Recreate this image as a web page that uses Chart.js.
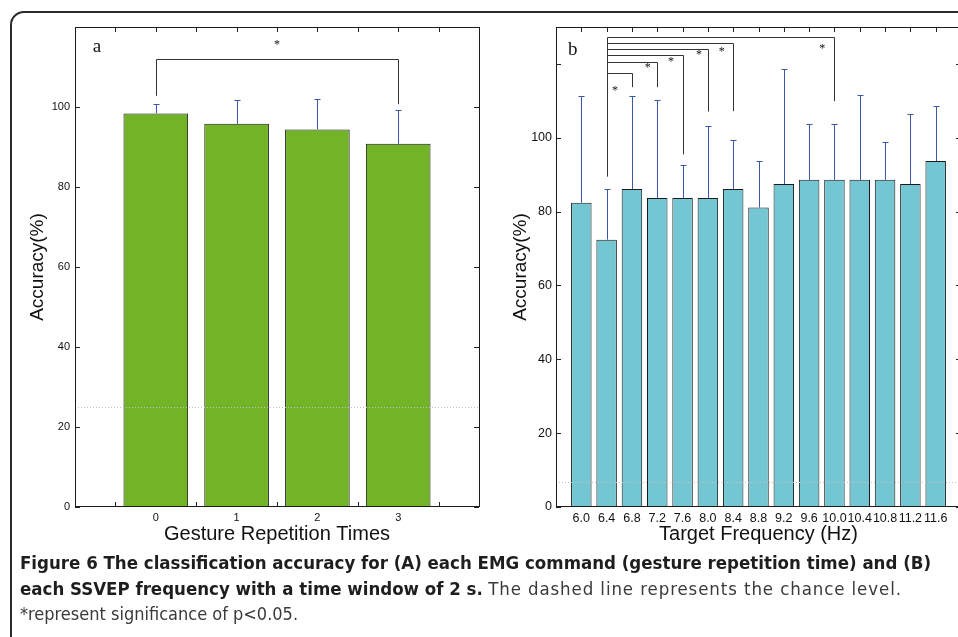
<!DOCTYPE html>
<html>
<head>
<meta charset="utf-8">
<script src="https://cdn.jsdelivr.net/npm/chart.js@4.4.1/dist/chart.umd.min.js"></script>
<style>
  html, body { margin: 0; padding: 0; background: #fff; width: 958px; height: 637px; overflow: hidden; }
  #frame { position: absolute; left: 10px; top: 11px; width: 1000px; height: 700px; border: 2px solid #2a2a2a; border-radius: 14px; box-sizing: border-box; }
  #panelA { position: absolute; left: 0; top: 0; }
  #panelB { position: absolute; left: 490px; top: 0; }
  #caption { position: absolute; left: 20px; top: 550px; font-family: "Liberation Sans Narrow", "DejaVu Sans Condensed", sans-serif; font-size: 18.5px; line-height: 25.5px; color: #3a3a3a; white-space: nowrap; }
  #caption b { color: #1e1e1e; }
  #caption .wide { letter-spacing: 0.9px; }
  #caption .note { font-size: 18px; }
</style>
</head>
<body>
<div id="frame"></div>
<canvas id="panelA" width="490" height="560"></canvas>
<canvas id="panelB" width="480" height="560"></canvas>
<div id="caption">
  <div><b>Figure 6 The classification accuracy for (A) each EMG command (gesture repetition time) and (B)</b></div>
  <div><b>each SSVEP frequency with a time window of 2 s.</b> <span class="wide">The dashed line represents the chance level.</span></div>
  <div class="note">*represent significance of p&lt;0.05.</div>
</div>
<script>
// panel a: accuracy per gesture repetition time
const gestureLabels = ["0", "1", "2", "3"];
const gestureAccuracy = [98.4, 95.8, 94.4, 90.8];
const gestureStd = [2.4, 5.9, 7.6, 8.4];
const gestureChance = 25;
const gestureYLabels = [0, 20, 40, 60, 80, 100];
// [from, to, level, left leg end, right leg end]
const gestureBrackets = [[0, 3, 112, 102.8, 100.7]];
const gestureStars = [[1.5, 116]];

// panel b: accuracy per SSVEP frequency
const freqLabels = ["6.0", "6.4", "6.8", "7.2", "7.6", "8.0", "8.4", "8.8", "9.2", "9.6", "10.0", "10.4", "10.8", "11.2", "11.6"];
const freqAccuracy = [82.4, 72.4, 86.1, 83.7, 83.7, 83.7, 86.1, 81.1, 87.5, 88.6, 88.6, 88.6, 88.6, 87.5, 93.7];
const freqStd = [28.9, 13.7, 25.2, 26.4, 8.8, 19.6, 13.4, 12.5, 31.1, 15.1, 15.1, 23.0, 10.3, 19.0, 14.9];
const freqChance = 6.7;
const freqYLabels = [0, 20, 40, 60, 80, 100];
const freqBrackets = [
    [1, 2, 117.5, 89.6, 113.7],
    [1, 3, 120.6, 89.6, 113.7],
    [1, 4, 122.5, 89.6, 95.5],
    [1, 5, 124.1, 89.6, 107.1],
    [1, 6, 125.6, 89.6, 107.2],
    [1, 10, 127.4, 89.6, 109.9]
];
const freqStars = [[1.33, 113.3], [2.62, 119.6], [3.54, 121.1], [4.65, 122.9], [5.55, 123.8], [9.52, 124.5]];

const sans = '"Liberation Sans", Arial, Helvetica, sans-serif';
const serif = '"Liberation Serif", "Times New Roman", serif';

// matlab-like decorations: inward ticks, box, error bars, brackets, stars
const panelPlugin = (p) => ({
    id: "panel_" + p.letter,
    beforeDatasetsDraw(chart) {
        const { ctx, chartArea: a, scales: { x, y } } = chart;
        ctx.save();
        ctx.strokeStyle = "#222";
        ctx.lineWidth = 1;
        ctx.beginPath();
        for (let v = x.min + p.xTickStep; v < x.max - 1e-6; v += p.xTickStep) {
            const px = Math.round(x.getPixelForValue(v)) + 0.5;
            ctx.moveTo(px, a.top); ctx.lineTo(px, a.top + 5);
            ctx.moveTo(px, a.bottom); ctx.lineTo(px, a.bottom - 5);
        }
        y.ticks.forEach(t => {
            const py = Math.round(y.getPixelForValue(t.value)) + 0.5;
            ctx.moveTo(a.left, py); ctx.lineTo(a.left + 5, py);
            ctx.moveTo(a.right, py); ctx.lineTo(a.right - 5, py);
        });
        ctx.stroke();
        ctx.restore();
    },
    afterDatasetsDraw(chart) {
        const { ctx, chartArea: a, scales: { x, y } } = chart;
        ctx.save();
        ctx.lineWidth = 1;

        // nivel de azar
        const cy = Math.round(y.getPixelForValue(p.chance)) + 0.5;
        ctx.strokeStyle = "#c4c4c4";
        ctx.setLineDash([1, 2]);
        ctx.beginPath(); ctx.moveTo(a.left, cy); ctx.lineTo(a.right, cy); ctx.stroke();
        ctx.setLineDash([]);

        // error bars, upper half only
        ctx.strokeStyle = "#3b57a7";
        ctx.beginPath();
        p.acc.forEach((m, i) => {
            const px = Math.round(x.getPixelForValue(i)) + 0.5;
            const y0 = y.getPixelForValue(m);
            const y1 = Math.round(y.getPixelForValue(m + p.std[i])) + 0.5;
            ctx.moveTo(px, y0); ctx.lineTo(px, y1);
            ctx.moveTo(px - 3, y1); ctx.lineTo(px + 3, y1);
        });
        ctx.stroke();

        // significance brackets
        ctx.strokeStyle = "#333";
        ctx.beginPath();
        p.brackets.forEach(([i, j, level, endI, endJ]) => {
            const xi = Math.round(x.getPixelForValue(i)) + 0.5;
            const xj = Math.round(x.getPixelForValue(j)) + 0.5;
            const yl = Math.round(y.getPixelForValue(level)) + 0.5;
            ctx.moveTo(xi, y.getPixelForValue(endI));
            ctx.lineTo(xi, yl);
            ctx.lineTo(xj, yl);
            ctx.lineTo(xj, y.getPixelForValue(endJ));
        });
        ctx.stroke();

        ctx.fillStyle = "#111";
        ctx.font = "12px " + serif;
        ctx.textAlign = "center";
        ctx.textBaseline = "middle";
        p.stars.forEach(([sx, sy]) => ctx.fillText("*", x.getPixelForValue(sx), y.getPixelForValue(sy) + 2));

        // caja
        ctx.strokeStyle = "#1a1a1a";
        ctx.strokeRect(Math.round(a.left) + 0.5, Math.round(a.top) + 0.5, Math.round(a.right - a.left), Math.round(a.bottom - a.top) - 1);

        ctx.font = "19px " + serif;
        ctx.textAlign = "left";
        ctx.textBaseline = "alphabetic";
        ctx.fillText(p.letter, x.getPixelForValue(p.letterPos[0]), y.getPixelForValue(p.letterPos[1]));
        ctx.restore();
    }
});

const buildPanel = (canvasId, cfg) => {
    const ctx = document.getElementById(canvasId).getContext("2d");
    return new Chart(ctx, {
        type: "bar",
        data: {
            datasets: [{
                data: cfg.acc.map((v, i) => ({ x: i, y: v })),
                backgroundColor: cfg.color,
                borderColor: "#1a1a1a",
                borderWidth: 1,
                barPercentage: cfg.barPct,
                categoryPercentage: 1
            }]
        },
        options: {
            responsive: false,
            animation: false,
            layout: { padding: cfg.padding },
            plugins: { legend: { display: false }, tooltip: { enabled: false } },
            scales: {
                x: {
                    type: "linear",
                    offset: false,
                    min: -1,
                    max: cfg.acc.length,
                    grid: { display: false, drawTicks: false },
                    border: { display: false },
                    ticks: {
                        stepSize: 1,
                        autoSkip: false,
                        maxRotation: 0,
                        minRotation: 0,
                        padding: 4,
                        color: "#111",
                        font: { family: sans, size: cfg.tickSize },
                        callback: v => cfg.labels[v] ?? ""
                    },
                    title: {
                        display: true,
                        text: cfg.xTitle,
                        color: "#111",
                        font: { family: sans, size: 20 },
                        padding: { top: 0, bottom: 11 }
                    },
                    afterFit: s => { s.height = 50; }
                },
                y: {
                    min: 0,
                    max: cfg.yMax,
                    grid: { display: false, drawTicks: false },
                    border: { display: false },
                    ticks: {
                        stepSize: 20,
                        includeBounds: false,
                        padding: cfg.yPad,
                        color: "#111",
                        font: { family: sans, size: cfg.tickSize },
                        callback: v => cfg.yLabels.includes(v) ? String(v) : ""
                    },
                    title: {
                        display: true,
                        text: "Accuracy(%)",
                        color: "#111",
                        font: { family: sans, size: 19 },
                        padding: { top: cfg.yTitlePad, bottom: 0 }
                    },
                    afterFit: s => { s.width = cfg.yWidth; }
                }
            }
        },
        plugins: [panelPlugin(cfg)]
    });
};

buildPanel("panelA", {
    letter: "a",
    letterPos: [-0.78, 113.8],
    labels: gestureLabels,
    acc: gestureAccuracy,
    std: gestureStd,
    chance: gestureChance,
    yLabels: gestureYLabels,
    brackets: gestureBrackets,
    stars: gestureStars,
    color: "#72b328",
    barPct: 0.8,
    xTickStep: 0.5,
    yMax: 120,
    tickSize: 11,
    yPad: 5,
    yWidth: 55,
    yTitlePad: 6,
    xTitle: "Gesture Repetition Times",
    padding: { left: 20, top: 27, right: 11, bottom: 3 }
});

buildPanel("panelB", {
    letter: "b",
    letterPos: [-0.53, 122.5],
    labels: freqLabels,
    acc: freqAccuracy,
    std: freqStd,
    chance: freqChance,
    yLabels: freqYLabels,
    brackets: freqBrackets,
    stars: freqStars,
    color: "#74c6d3",
    barPct: 0.81,
    xTickStep: 1,
    yMax: 130,
    tickSize: 12.5,
    yPad: 4,
    yWidth: 54,
    yTitlePad: 7,
    xTitle: "Target Frequency (Hz)",
    padding: { left: 12, top: 27, right: 9, bottom: 3 }
});
</script>
</body>
</html>
